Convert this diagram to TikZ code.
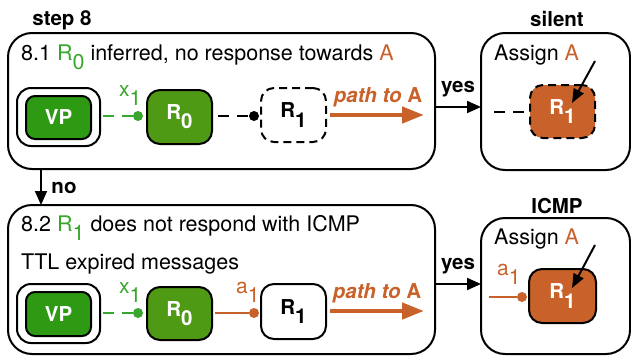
\documentclass[tikz,border=0pt]{standalone}
\usepackage{fontspec}
\setmainfont{TeX Gyre Heros}
\usetikzlibrary{arrows.meta,calc}
\definecolor{grn}{HTML}{38A62C}
\definecolor{vpg}{HTML}{2E9A14}
\definecolor{rzg}{HTML}{4F9A14}
\definecolor{org}{HTML}{C8622A}
\newcommand{\lowr}[1]{\raisebox{-.45em}{#1}}
\tikzset{
  x=1pt,y=-1pt,
  panel/.style={draw=black,line width=2pt,rounded corners=24pt,inner sep=0pt,outer sep=0pt,anchor=north west},
  rbox/.style={draw=black,line width=2pt,rounded corners=13pt,inner sep=0pt,outer sep=0pt,anchor=north west,font=\fontsize{20.5}{20}\selectfont\bfseries},
  dashbox/.style={rbox,dash pattern=on 8pt off 5pt},
  txt/.style={anchor=base west,inner sep=0pt,font=\fontsize{21.5}{22}\selectfont},
  btxt/.style={anchor=base,inner sep=0pt,font=\fontsize{20.5}{22}\selectfont\bfseries},
  sublab/.style={anchor=base west,inner sep=0pt,font=\fontsize{21}{22}\selectfont},
  dot/.style={circle,inner sep=0pt,minimum size=10pt,fill=#1,draw=none},
  link/.style={line width=2pt},
  dashlink/.style={line width=2pt,dash pattern=on 11pt off 8pt},
  flow/.style={line width=2pt,-{Triangle[length=14pt,width=12pt]}},
  pointer/.style={line width=2pt,-{Triangle[length=14pt,width=11pt]}},
  patharrow/.style={draw=org,line width=4.5pt,-{Triangle[length=22pt,width=16pt]}},
  pathlab/.style={anchor=base,inner sep=0pt,text=org,font=\fontsize{20.5}{22}\selectfont\bfseries},
}
\begin{document}
\begin{tikzpicture}
\useasboundingbox (0,0) rectangle (631,356);
% panels
\node[panel,minimum width=427pt,minimum height=136pt] (p1) at (8,33) {};
\node[panel,minimum width=149pt,minimum height=137pt] (p2) at (481,33) {};
\node[panel,minimum width=427pt,minimum height=149pt] (p3) at (8,205) {};
\node[panel,minimum width=149pt,minimum height=136pt] (p4) at (481,218) {};
% titles
\node[btxt] (t1) at (62,25) {step 8};
\node[btxt] (t2) at (557,27) {silent};
\node[btxt] (t3) at (557,213) {ICMP};
\node[btxt] (no) at (64,193) {no};
\node[btxt] (y1) at (458,92) {yes};
\node[btxt] (y2) at (458,269) {yes};
% texts
\node[txt] (a1) at (21,60) {8.1 \textcolor{grn}{R\lowr{0}} inferred, no response towards \textcolor{org}{A}};
\node[txt] (a2) at (21,231) {8.2 \textcolor{grn}{R\lowr{1}} does not respond with ICMP};
\node[txt] (a3) at (21,269) {TTL expired messages};
\node[txt] (a4) at (494,60) {Assign \textcolor{org}{A}};
\node[txt] (a5) at (494,244) {Assign \textcolor{org}{A}};
% row 1
\node[rbox,rounded corners=14pt,minimum width=83pt,minimum height=58pt] (vo1) at (17,88) {};
\node[rbox,rounded corners=9pt,fill=vpg,text=white,minimum width=65pt,minimum height=43pt] (v1) at (26,96) {VP};
\node[rbox,fill=rzg,text=white,minimum width=65pt,minimum height=54pt] (r01) at (147,90) {R\lowr{0}};
\node[dashbox,minimum width=65pt,minimum height=54pt] (r11) at (261,88) {R\lowr{1}};
\node[dot=grn] (d1) at (138,116) {};
\node[dot=black] (d2) at (254,116) {};
\draw[dashlink,draw=grn] (vo1.east |- d1) ++(3,0) coordinate (s1) (s1) -- (d1);
\draw[dashlink,draw=black] ($(r01.east |- d2)+(6,0)$) coordinate (s2) -- (d2);
\node[sublab,text=grn] (x1) at (119,96) {x\lowr{1}};
\coordinate (pa1) at (424,115);
\draw[patharrow] (r11.east |- pa1) ++(4,0) coordinate (pb1) (pb1) -- (pa1);
\node[pathlab] (pl1) at (378,102) {\textit{path to} A};
% row 2
\node[rbox,rounded corners=14pt,minimum width=83pt,minimum height=59pt] (vo2) at (17,284) {};
\node[rbox,rounded corners=9pt,fill=vpg,text=white,minimum width=65pt,minimum height=44pt] (v2) at (26,292) {VP};
\node[rbox,fill=rzg,text=white,minimum width=65pt,minimum height=53pt] (r02) at (147,287) {R\lowr{0}};
\node[rbox,minimum width=65pt,minimum height=55pt] (r12) at (261,284) {R\lowr{1}};
\node[dot=grn] (d3) at (138,313) {};
\node[dot=org] (d4) at (254,313) {};
\draw[dashlink,draw=grn] (vo2.east |- d3) ++(3,0) coordinate (s3) (s3) -- (d3);
\draw[link,draw=org] (r02.east |- d4) ++(3,0) coordinate (s4) (s4) -- (d4);
\node[sublab,text=grn] (x2) at (119,293) {x\lowr{1}};
\node[sublab,text=org] (a1l) at (236,293) {a\lowr{1}};
\coordinate (pa2) at (424,311);
\draw[patharrow] (r12.east |- pa2) ++(4,0) coordinate (pb2) (pb2) -- (pa2);
\node[pathlab] (pl2) at (377,298) {\textit{path to} A};
% right panels
\node[dashbox,fill=org,text=white,minimum width=65pt,minimum height=53pt] (r13) at (530,85) {R\lowr{1}};
\node[rbox,fill=org,text=white,minimum width=67pt,minimum height=54pt] (r14) at (529,269) {R\lowr{1}};
\coordinate (q1) at (595,61);
\coordinate (q2) at (572,103);
\draw[pointer] (q1) -- (q2);
\coordinate (q3) at (595,245);
\coordinate (q4) at (572,288);
\draw[pointer] (q3) -- (q4);
\coordinate (e1) at (494,112);
\draw[dashlink,draw=black] (e1) -- (r13.west |- e1);
\coordinate (e2) at (489,297);
\node[dot=org] (d5) at (522,297) {};
\draw[link,draw=org] (e2) -- (d5);
\node[sublab,text=org] (a2l) at (497,275) {a\lowr{1}};
% flow arrows
\coordinate (f1) at (458,107);
\coordinate (f2) at (458,284);
\coordinate (f3) at (41,187);
\draw[flow] (p1.east |- f1) -- (p2.west |- f1);
\draw[flow] (p3.east |- f2) -- (p4.west |- f2);
\draw[flow] (p1.south -| f3) -- (p3.north -| f3);
\end{tikzpicture}
\end{document}
